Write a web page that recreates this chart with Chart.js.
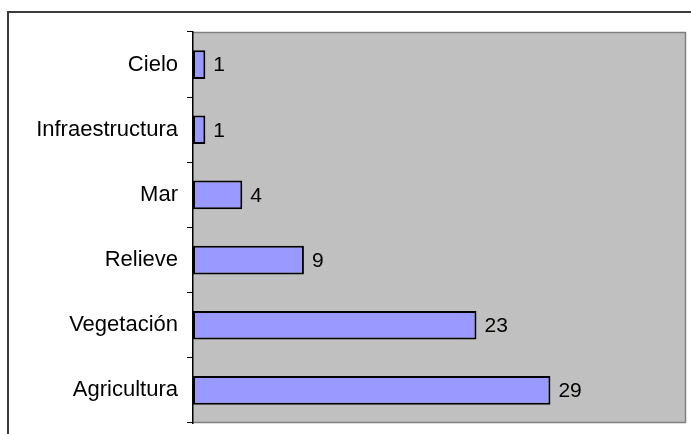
<!DOCTYPE html>
<html>
<head>
<meta charset="utf-8">
<script src="https://cdn.jsdelivr.net/npm/chart.js@4/dist/chart.umd.min.js"></script>
<style>
html,body{margin:0;padding:0;background:#fff;}
#wrap{width:691px;height:434px;position:relative;}
</style>
</head>
<body>
<div id="wrap"><canvas id="c" width="691" height="434"></canvas></div>
<script>
const categories = ['Cielo', 'Infraestructura', 'Mar', 'Relieve', 'Vegetación', 'Agricultura'];
const values = [1, 1, 4, 9, 23, 29];
const xMax = 40;

const framePlugin = {
  id: 'frame',
  beforeDraw(chart) {
    const ctx = chart.ctx;
    const a = chart.chartArea;
    ctx.save();
    ctx.fillStyle = '#ffffff';
    ctx.fillRect(0, 0, chart.width, chart.height);
    ctx.strokeStyle = '#3a3a3a';
    ctx.lineWidth = 2;
    ctx.strokeRect(8, 12, chart.width + 20, chart.height + 20);
    ctx.fillStyle = '#c0c0c0';
    ctx.fillRect(a.left, a.top, a.right - a.left, a.bottom - a.top);
    ctx.strokeStyle = '#808080';
    ctx.lineWidth = 1.5;
    ctx.beginPath();
    ctx.moveTo(a.left, a.top + 0.5);
    ctx.lineTo(a.right - 0.5, a.top + 0.5);
    ctx.lineTo(a.right - 0.5, a.bottom - 0.5);
    ctx.lineTo(a.left, a.bottom - 0.5);
    ctx.stroke();
    ctx.restore();
  },
  afterDatasetsDraw(chart) {
    const ctx = chart.ctx;
    const meta = chart.getDatasetMeta(0);
    ctx.save();
    ctx.fillStyle = '#000';
    ctx.font = '21px "Liberation Sans", Arial, sans-serif';
    ctx.textBaseline = 'middle';
    ctx.textAlign = 'left';
    meta.data.forEach((bar, i) => {
      ctx.fillText(String(values[i]), bar.x + 8, bar.y + 1);
    });
    ctx.restore();
  }
};

new Chart(document.getElementById('c'), {
  type: 'bar',
  data: {
    labels: categories,
    datasets: [{
      data: values,
      backgroundColor: '#9999ff',
      borderColor: '#000000',
      borderWidth: 2,
      borderSkipped: false,
      categoryPercentage: 1,
      barPercentage: 0.44
    }]
  },
  options: {
    indexAxis: 'y',
    responsive: false,
    animation: false,
    devicePixelRatio: 1,
    layout: { padding: { top: 32, right: 5, bottom: 11, left: 0 } },
    plugins: { legend: { display: false }, tooltip: { enabled: false }, title: { display: false } },
    scales: {
      x: { display: false, min: 0, max: xMax },
      y: {
        afterFit(s) { s.width = 193; s.paddingTop = 0; s.paddingBottom = 0; },
        grid: { offset: true, drawOnChartArea: false, drawTicks: true, tickLength: 6, color: '#000', lineWidth: 1 },
        border: { display: true, color: '#000', width: 1.5 },
        ticks: { color: '#000', padding: 9, font: { family: '"Liberation Sans", Arial, sans-serif', size: 22 } }
      }
    }
  },
  plugins: [framePlugin]
});
</script>
</body>
</html>
